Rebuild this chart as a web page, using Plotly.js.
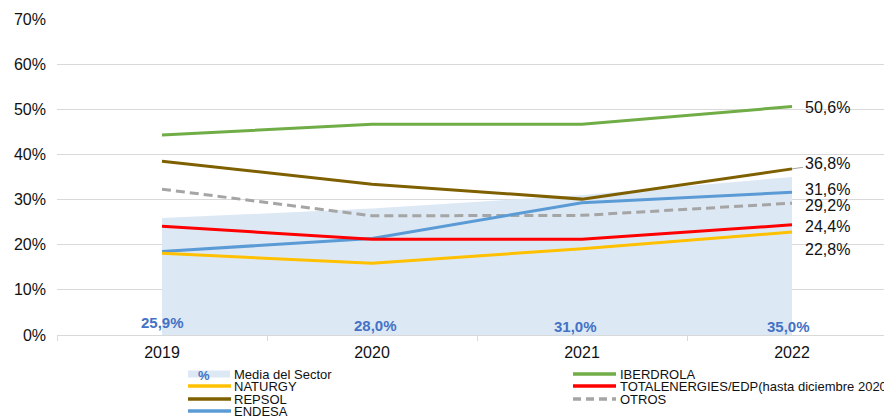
<!DOCTYPE html>
<html><head><meta charset="utf-8">
<script src="https://cdn.plot.ly/plotly-3.0.1.min.js"></script>
<style>html,body{margin:0;padding:0;background:#fff}#chart{width:884px;height:417px}</style>
</head><body><div id="chart"></div>
<script>
// ---- data ----
const years = ['2019', '2020', '2021', '2022'];
const mediaSector = [25.9, 28.0, 31.0, 35.0];
const iberdrola = [44.3, 46.7, 46.7, 50.6];
const naturgy = [18.1, 15.9, 19.1, 22.8];
const totalEdp = [24.1, 21.2, 21.2, 24.4];
const repsol = [38.5, 33.4, 30.1, 36.8];
const otros = [32.3, 26.4, 26.5, 29.2];
const endesa = [18.5, 21.4, 29.3, 31.6];
const names = {
  media: 'Media del Sector', iberdrola: 'IBERDROLA', naturgy: 'NATURGY',
  total: 'TOTALENERGIES/EDP(hasta diciembre 2020)', repsol: 'REPSOL',
  otros: 'OTROS', endesa: 'ENDESA'
};

// ---- styles ----
const FONT = 'Arial, "Liberation Sans", sans-serif';
const colors = {
  media: '#dde8f5', mediaLabel: '#4472c4', iberdrola: '#70ad47', naturgy: '#ffc000',
  total: '#ff0000', repsol: '#7f6000', otros: '#a5a5a5', endesa: '#5b9bd5'
};
const fmt = v => v.toFixed(1).replace('.', ',') + '%';

const W = 884, H = 417, L = 57, T = 19, B = 82, R = 0;
const pw = W - L - R, ph = H - T - B;
const px = x => (x - L) / pw;
const py = y => (H - B - y) / ph;
const last = years.length - 1;

function line(y, key, dash) {
  return { x: years, y: y, type: 'scatter', mode: 'lines', name: names[key],
    line: { color: colors[key], width: 3, dash: dash || 'solid' }, hoverinfo: 'skip', showlegend: false };
}

const traces = [
  { x: years, y: mediaSector, type: 'scatter', mode: 'none', fill: 'tozeroy',
    fillcolor: colors.media, name: names.media, hoverinfo: 'skip', showlegend: false },
  line(iberdrola, 'iberdrola'),
  line(repsol, 'repsol'),
  line(otros, 'otros', '9px,5px'),
  line(endesa, 'endesa'),
  line(totalEdp, 'total'),
  line(naturgy, 'naturgy')
];

const annotations = [];
// bottom labels for media (small label offsets, in pixels)
const mediaLabelDx = [0, 3, -7, -4];
const mediaLabelDy = [3, 0, -1, -1];
mediaSector.forEach((v, i) => annotations.push({
  x: i, y: 2, xref: 'x', yref: 'y', text: '<b>' + fmt(v) + '</b>', showarrow: false,
  xshift: mediaLabelDx[i], yshift: mediaLabelDy[i],
  font: { family: FONT, size: 15, color: colors.mediaLabel }, yanchor: 'middle'
}));
// end labels
const endSeries = [iberdrola, repsol, endesa, otros, totalEdp, naturgy];
const endShift = [-1, 5, 3, -2, -2, -17];
endSeries.forEach((s, i) => {
  const v = s[last];
  if (i === 1) {
    annotations.push({ x: last, y: v, xref: 'x', yref: 'y', text: fmt(v), showarrow: true,
      arrowhead: 0, arrowwidth: 1, arrowcolor: '#a6a6a6', ax: 35, ay: -endShift[i], standoff: 0,
      font: { family: FONT, size: 16, color: '#111' } });
  } else {
    annotations.push({ x: last, y: v, xref: 'x', yref: 'y', text: fmt(v), showarrow: false,
      xanchor: 'left', xshift: 11, yshift: endShift[i], font: { family: FONT, size: 16, color: '#111' } });
  }
});

// legend
const shapes = [];
const legendItems = [
  { key: 'media', col: 0, row: 0 }, { key: 'iberdrola', col: 1, row: 0 },
  { key: 'naturgy', col: 0, row: 1 }, { key: 'total', col: 1, row: 1 },
  { key: 'repsol', col: 0, row: 2 }, { key: 'otros', col: 1, row: 2 },
  { key: 'endesa', col: 0, row: 3 }
];
const colX = [[188, 231, 232], [573, 616, 618]];
const rowY = [374, 386, 399, 411];
legendItems.forEach(it => {
  const c = colX[it.col], y = rowY[it.row];
  if (it.key === 'media') {
    shapes.push({ type: 'rect', xref: 'paper', yref: 'paper', x0: px(c[0]), x1: px(c[1] - 1),
      y0: py(y - 3.5), y1: py(y + 3.5), fillcolor: colors.media, line: { width: 0 } });
    annotations.push({ xref: 'paper', yref: 'paper', x: px(204), y: py(y + 1), text: '<b>%</b>',
      xanchor: 'center', yanchor: 'middle', showarrow: false,
      font: { family: FONT, size: 13, color: colors.mediaLabel } });
  } else {
    shapes.push({ type: 'line', xref: 'paper', yref: 'paper', x0: px(c[0]), x1: px(c[1]),
      y0: py(y), y1: py(y), line: { color: colors[it.key], width: 3.5,
      dash: it.key === 'otros' ? '8px,5px' : 'solid' } });
  }
  annotations.push({ xref: 'paper', yref: 'paper', x: px(c[2]), y: py(y), xanchor: 'left',
    yanchor: 'middle', text: names[it.key], showarrow: false,
    font: { family: FONT, size: 13, color: '#111' } });
});

const layout = {
  width: W, height: H,
  margin: { l: L, r: R, t: T, b: B, pad: 0 },
  paper_bgcolor: '#fff', plot_bgcolor: '#fff',
  font: { family: FONT, size: 16, color: '#111' },
  showlegend: false,
  xaxis: {
    type: 'category', range: [-0.5, -0.5 + pw / 210], tickson: 'boundaries',
    ticks: 'outside', ticklen: 5, tickcolor: '#d9d9d9', showgrid: false,
    showline: true, linecolor: '#d9d9d9', linewidth: 1, zeroline: false,
    ticklabelstandoff: 3,
    tickfont: { family: FONT, size: 16, color: '#111' }, fixedrange: true
  },
  yaxis: {
    range: [0, 70], dtick: 10, tick0: 0, ticksuffix: '%', showgrid: true,
    gridcolor: '#d9d9d9', gridwidth: 1, zeroline: false, showline: false,
    ticklabelstandoff: 10, tickfont: { family: FONT, size: 16, color: '#111' }, fixedrange: true
  },
  shapes: shapes,
  annotations: annotations
};

Plotly.newPlot('chart', traces, layout, { staticPlot: true, displayModeBar: false });
</script></body></html>
